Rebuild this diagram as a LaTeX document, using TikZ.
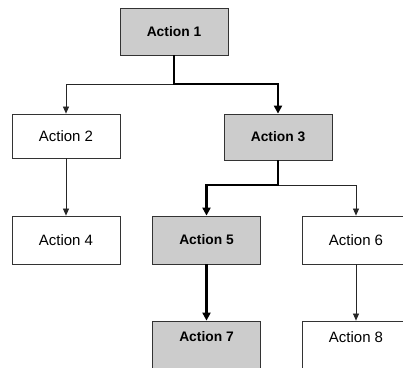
\documentclass[tikz,border=0pt]{standalone}
\usepackage{fontspec}
\setmainfont{Liberation Sans}
\usetikzlibrary{arrows.meta}
\begin{document}
\begin{tikzpicture}[x=1pt,y=-1pt,
  plainbox/.style={draw=black!80,line width=0.8pt,fill=white,minimum width=108pt,minimum height=46pt,inner sep=0pt,font=\fontsize{15}{17}\selectfont},
  hotbox/.style={draw=black!80,line width=0.8pt,fill=gray!40,minimum width=108pt,minimum height=46pt,inner sep=0pt,font=\bfseries\fontsize{13.8}{16}\selectfont},
  thinlink/.style={draw=black!85,line width=0.7pt,-{Triangle[length=7pt,width=6pt]}},
  thicklink/.style={draw=black,line width=2.2pt,-{Triangle[length=8pt,width=8pt]}}]
\useasboundingbox (0,0) rectangle (403,367);
% boxes
\node[hotbox,minimum height=47pt]   (a1) at (174,31.5) {Action 1};
\node[plainbox,minimum height=44pt] (a2) at (66,136)  {Action 2};
\node[hotbox]                       (a3) at (278,137) {Action 3};
\node[plainbox,minimum height=48pt] (a4) at (66,240)  {Action 4};
\node[hotbox,minimum height=48pt]   (a5) at (206.5,240) {Action 5};
\node[plainbox,minimum height=48pt] (a6) at (356,240) {Action 6};
% bottom row runs past the lower edge; labels sit in the visible part
\node[hotbox,minimum height=60pt]   (a7) at (206.5,351) {};
\node[plainbox,minimum height=60pt] (a8) at (356,351) {};
\node[font=\bfseries\fontsize{13.8}{16}\selectfont] (a7t) at (206.5,337) {Action 7};
\node[font=\fontsize{15}{17}\selectfont] (a8t) at (356,337) {Action 8};
% junctions
\coordinate (j1) at (a1.south |- 0,84);
\coordinate (j3) at (a3.south |- 0,185);
% connectors
\draw[thinlink] (j1) -| (a2.north);
\draw[thinlink] (a2.south) -- (a4.north);
\draw[thinlink] (j3) -| (a6.north);
\draw[thinlink] (a6.south) -- (a8.north);
\draw[thicklink] (a1.south) -- (j1) -| (a3.north);
\draw[thicklink] (a3.south) -- (j3) -| (a5.north);
\draw[thicklink] (a5.south) -- (a7.north);
\end{tikzpicture}
\end{document}
